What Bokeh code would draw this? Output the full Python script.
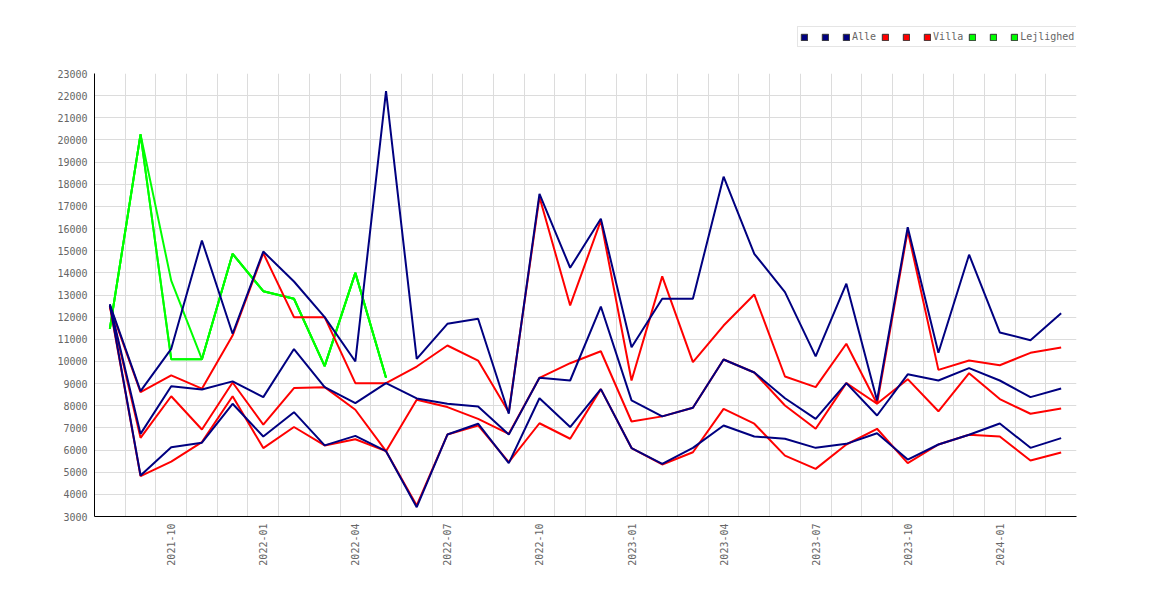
import math
from bokeh.plotting import figure
from bokeh.layouts import column
from bokeh.models import FixedTicker, Legend, LegendItem, Range1d
from bokeh.core.properties import value
from bokeh.embed import file_html
from bokeh.resources import INLINE

months = ["2021-08", "2021-09", "2021-10", "2021-11", "2021-12",
          "2022-01", "2022-02", "2022-03", "2022-04", "2022-05", "2022-06",
          "2022-07", "2022-08", "2022-09", "2022-10", "2022-11", "2022-12",
          "2023-01", "2023-02", "2023-03", "2023-04", "2023-05", "2023-06",
          "2023-07", "2023-08", "2023-09", "2023-10", "2023-11", "2023-12",
          "2024-01", "2024-02", "2024-03"]
tick_labels = ["2021-10", "2022-01", "2022-04", "2022-07", "2022-10",
               "2023-01", "2023-04", "2023-07", "2023-10", "2024-01"]
y_ticks = list(range(3000, 23001, 1000))

alle_top = [12570, 8660, 10570, 15460, 11250, 14960, 13610, 12000, 10000, 22200,
            10120, 11700, 11930, 7640, 17570, 14230, 16440, 10640, 12830, 12830,
            18340, 14860, 13130, 10230, 13510, 8240, 16060, 10390, 14820, 11310,
            10960, 12180]
alle_mid = [12570, 6730, 8880, 8730, 9100, 8390, 10560, 8840, 8120, 9020,
            8330, 8090, 7970, 6700, 9260, 9140, 12480, 8240, 7520, 7910,
            10090, 9500, 8340, 7410, 9020, 7560, 9420, 9140, 9700, 9140,
            8390, 8780]
alle_low = [12570, 4850, 6130, 6330, 8090, 6610, 7710, 6210, 6640, 5950,
            3420, 6700, 7190, 5410, 8340, 7040, 8750, 6090, 5380, 6100,
            7110, 6610, 6510, 6100, 6280, 6760, 5570, 6250, 6690, 7200,
            6100, 6540]

villa_top = [12500, 8610, 9370, 8770, 11170, 14890, 12000, 12000, 9020, 9020,
             9770, 10720, 10040, 7710, 17420, 12530, 16360, 9140, 13840, 9970,
             11620, 13020, 9320, 8840, 10800, 8090, 15900, 9620, 10040, 9830,
             10390, 10630]
villa_mid = [12500, 6550, 8430, 6930, 9050, 7150, 8800, 8840, 7820, 5950,
             8270, 7940, 7410, 6730, 9260, 9920, 10460, 7290, 7520, 7910,
             10090, 9500, 8010, 6960, 9020, 8090, 9200, 7750, 9470, 8300,
             7640, 7880]
villa_low = [12500, 4820, 5480, 6360, 8430, 6090, 7040, 6210, 6490, 5950,
             3500, 6700, 7110, 5450, 7210, 6510, 8750, 6090, 5350, 5900,
             7860, 7190, 5750, 5150, 6250, 6960, 5410, 6250, 6690, 6610,
             5530, 5890]

lejl_top = [11470, 20250, 13650, 10100, 14860, 13170, 12830, 9790, 14000, 9260]
lejl_mid = [11470, 20250, 10100, 10100, 14860, 13170, 12830, 9790, 14000, 9260]
lejl_low = [11470, 20250, 10100, 10100, 14860, 13170, 12830, 9790, 14000, 9260]

series_names = ["Alle", "Villa", "Lejlighed"]

NAVY = "#000080"
RED = "#ff0000"
GREEN = "#00ff00"
FONT = "DejaVu Sans Mono"
TXT = "#666666"

xs = list(range(len(months)))

# ---------------- main chart ----------------
p = figure(width=1160, height=525, output_backend="svg", toolbar_location=None,
           x_range=Range1d(-0.5, len(months) - 0.5), y_range=Range1d(3000, 23000),
           min_border_left=94, min_border_right=84, min_border_top=8,
           min_border_bottom=74)
p.outline_line_color = None
p.background_fill_color = "white"
p.border_fill_color = "white"

p.xgrid.ticker = FixedTicker(ticks=[k + 0.5 for k in range(-1, len(months))])
p.ygrid.ticker = FixedTicker(ticks=y_ticks)
for g in (p.xgrid, p.ygrid):
    g.grid_line_color = "#dcdcdc"
    g.grid_line_width = 1

p.xaxis.ticker = FixedTicker(ticks=[months.index(t) for t in tick_labels])
p.xaxis.major_label_overrides = {months.index(t): t for t in tick_labels}
p.xaxis.major_label_orientation = math.pi / 2
p.yaxis.ticker = FixedTicker(ticks=y_ticks)
for ax in (p.xaxis, p.yaxis):
    ax.axis_line_color = "black"
    ax.axis_line_width = 1
    ax.major_tick_line_color = None
    ax.minor_tick_line_color = None
    ax.major_label_text_font = FONT
    ax.major_label_text_font_size = "10px"
    ax.major_label_text_color = TXT
    ax.major_label_standoff = 1

for ys in (lejl_top, lejl_mid, lejl_low):
    p.line(xs[:len(ys)], ys, line_color=GREEN, line_width=2)
for ys in (villa_top, villa_mid, villa_low):
    p.line(xs, ys, line_color=RED, line_width=2)
for ys in (alle_top, alle_mid, alle_low):
    p.line(xs, ys, line_color=NAVY, line_width=2)

# ---------------- legend strip ----------------
lg = figure(width=1160, height=65, output_backend="svg", toolbar_location=None,
            x_range=Range1d(0, 1), y_range=Range1d(0, 1),
            min_border_left=0, min_border_right=0, min_border_top=0,
            min_border_bottom=0)
lg.axis.visible = False
lg.grid.visible = False
lg.outline_line_color = None
lg.background_fill_color = "white"
lg.border_fill_color = "white"


def swatch(color):
    # hidden helper glyph whose only purpose is the legend swatch
    r = lg.quad(left=[0], right=[1], top=[1], bottom=[0], fill_color=color,
                line_color="#333333", line_width=1)
    r.visible = False
    return r


swatches = [swatch(c) for c in (NAVY, RED, GREEN)]

items = []
for r, name in zip(swatches, series_names):
    items.append(LegendItem(label=value(""), renderers=[r]))
    items.append(LegendItem(label=value(""), renderers=[r]))
    items.append(LegendItem(label=value(name), renderers=[r]))

legend = Legend(items=items, orientation="horizontal", location=(703, 18),
                glyph_width=8, glyph_height=8, label_standoff=2, spacing=5,
                padding=2, margin=0, label_width=6, label_height=15,
                label_text_font=FONT, label_text_font_size="10px",
                label_text_color=TXT, border_line_color="#cccccc",
                border_line_width=1, background_fill_color="white",
                background_fill_alpha=1.0, inactive_fill_alpha=0.0)
lg.add_layout(legend, "center")

layout = column(lg, p, spacing=0)
open("out.html", "w").write(file_html(layout, INLINE))
